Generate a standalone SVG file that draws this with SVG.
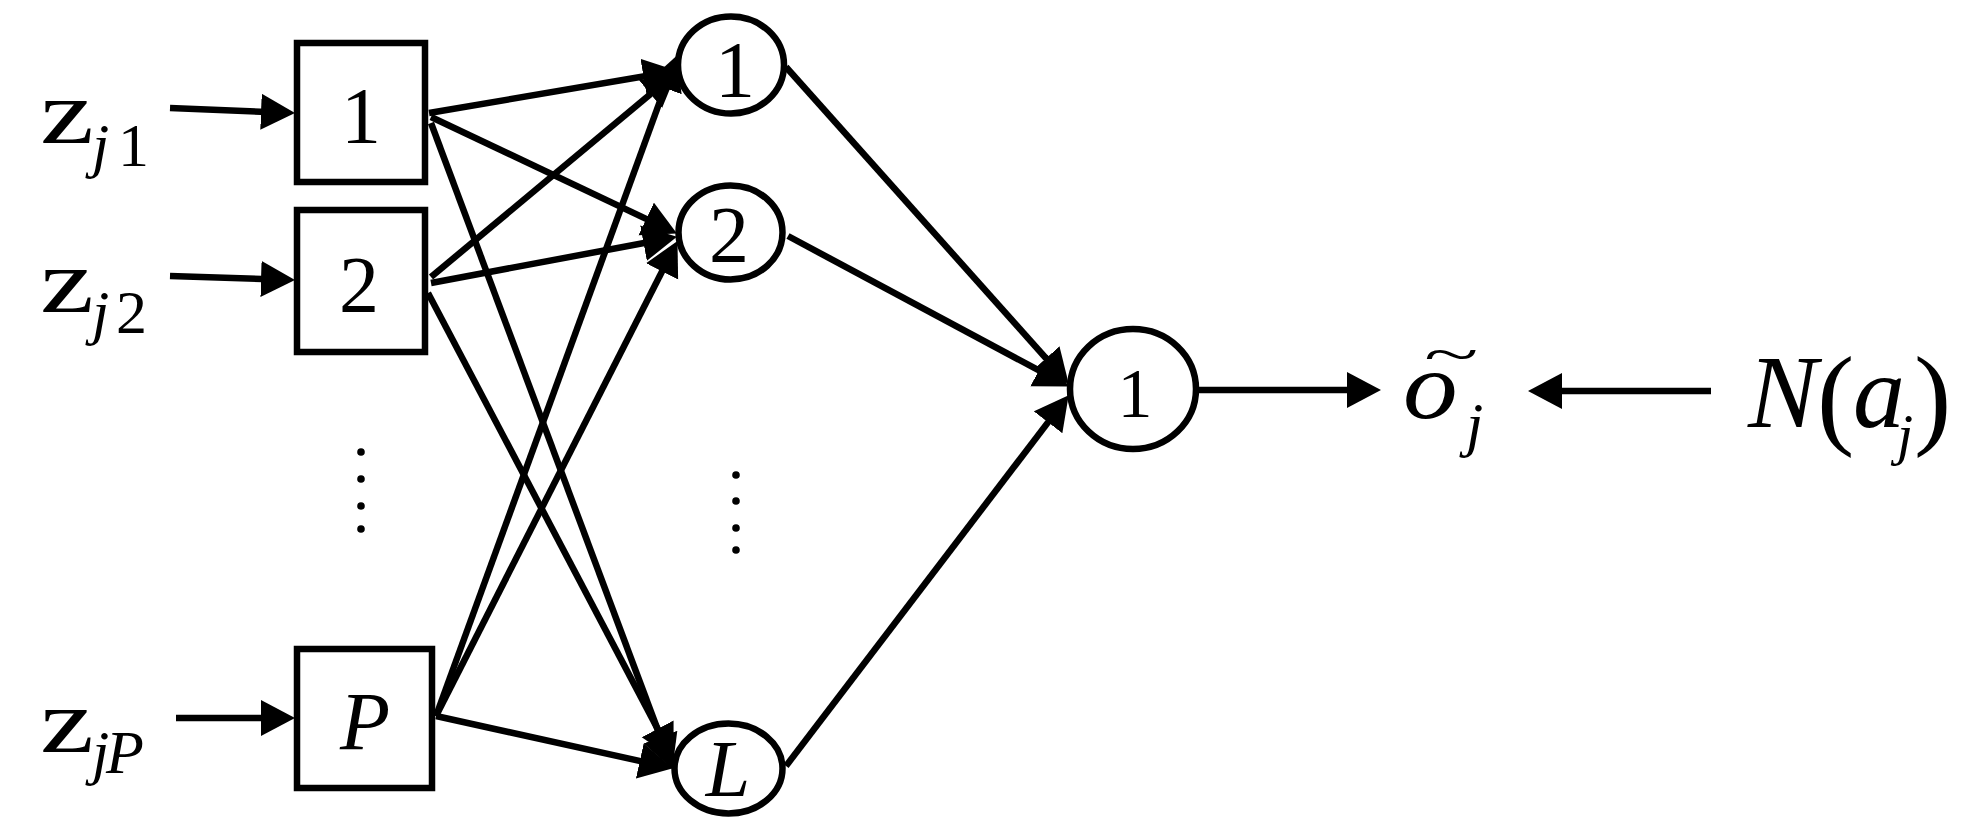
<svg xmlns="http://www.w3.org/2000/svg" width="1970" height="834" viewBox="0 0 1970 834">
<defs>
<style>
.shape{fill:#fff;stroke:#000;stroke-width:6.5}
.t{font-family:"Liberation Serif","Times New Roman",serif;fill:#000}
.i{font-style:italic}
.c{stroke:#000;stroke-width:6.5;fill:none;marker-end:url(#ah)}
.dot{fill:#000}
</style>
<marker id="ah" markerUnits="userSpaceOnUse" markerWidth="36" markerHeight="38" refX="25" refY="18" orient="auto" viewBox="0 0 36 38">
<path d="M0,0 L34,18 L0,36 Z" fill="#000"/>
</marker>
</defs>
<rect width="1970" height="834" fill="#fff"/>
<g id="connectors">
<line class="c" x1="170" y1="108" x2="286" y2="112.7"/>
<line class="c" x1="170" y1="276" x2="286" y2="279.7"/>
<line class="c" x1="176" y1="718" x2="286" y2="718"/>
<line class="c" x1="429" y1="113" x2="668.1" y2="72.3"/>
<line class="c" x1="431" y1="277" x2="669.8" y2="78.1"/>
<line class="c" x1="436" y1="716" x2="673.3" y2="64.5"/>
<line class="c" x1="431" y1="117" x2="668.8" y2="229.6"/>
<line class="c" x1="431" y1="283" x2="668.1" y2="238.5"/>
<line class="c" x1="436" y1="716" x2="673.4" y2="249.1"/>
<line class="c" x1="431" y1="123" x2="669.2" y2="760.5"/>
<line class="c" x1="428" y1="293" x2="669.3" y2="750.9"/>
<line class="c" x1="436" y1="716" x2="664.2" y2="766.3"/>
<line class="c" x1="786" y1="67" x2="1062.7" y2="377"/>
<line class="c" x1="788" y1="236" x2="1060.9" y2="382.2"/>
<line class="c" x1="786" y1="766" x2="1063.2" y2="402.4"/>
<line class="c" x1="1198" y1="390" x2="1372" y2="390"/>
<line class="c" x1="1711" y1="391" x2="1537" y2="391"/>
</g>
<g id="label-zj1"><text class="t" transform="translate(40,143) scale(1.35,1)" font-size="90">z</text><text class="t i" x="92" y="166" font-size="62">j</text><text class="t" x="118" y="166" font-size="62">1</text></g>
<g id="label-zj2"><text class="t" transform="translate(40,312) scale(1.35,1)" font-size="90">z</text><text class="t i" x="92" y="333" font-size="62">j</text><text class="t" x="116" y="333" font-size="62">2</text></g>
<g id="label-zjP"><text class="t" transform="translate(40,752) scale(1.35,1)" font-size="90">z</text><text class="t i" x="92" y="773" font-size="62">j</text><text class="t i" x="106" y="773" font-size="62">P</text></g>
<g id="input-1"><rect class="shape" x="297" y="43" width="128" height="139"/><text class="t" x="361" y="143" font-size="80" text-anchor="middle">1</text></g>
<g id="input-2"><rect class="shape" x="297" y="210" width="128" height="142"/><text class="t" x="359" y="312" font-size="80" text-anchor="middle">2</text></g>
<g id="input-P"><rect class="shape" x="297" y="649" width="135" height="139"/><text class="t i" x="365" y="749" font-size="82" text-anchor="middle">P</text></g>
<g id="input-dots"><circle class="dot" cx="361" cy="452" r="3.8"/><circle class="dot" cx="361" cy="479" r="3.8"/><circle class="dot" cx="361" cy="506" r="3.8"/><circle class="dot" cx="361" cy="529" r="3.8"/></g>
<g id="hidden-1"><ellipse class="shape" cx="731" cy="65" rx="53" ry="48.5"/><text class="t" x="735" y="97" font-size="80" text-anchor="middle">1</text></g>
<g id="hidden-2"><ellipse class="shape" cx="730.5" cy="232.5" rx="52" ry="47"/><text class="t" x="729" y="262" font-size="80" text-anchor="middle">2</text></g>
<g id="hidden-L"><ellipse class="shape" cx="728.5" cy="768.5" rx="54" ry="45"/><text class="t i" x="728" y="796" font-size="80" text-anchor="middle">L</text></g>
<g id="hidden-dots"><circle class="dot" cx="736" cy="475" r="3.8"/><circle class="dot" cx="736" cy="501" r="3.8"/><circle class="dot" cx="736" cy="528" r="3.8"/><circle class="dot" cx="736" cy="550" r="3.8"/></g>
<g id="output-1"><ellipse class="shape" cx="1133" cy="389" rx="63" ry="60"/><text class="t" x="1135" y="417" font-size="70" text-anchor="middle">1</text></g>
<g id="label-oj"><text class="t" transform="translate(1424,373) scale(1.12,0.6)" font-size="90">~</text><text class="t i" transform="translate(1403,418) scale(1.15,1)" font-size="95">o</text><text class="t i" x="1466" y="445" font-size="62">j</text></g>
<g id="label-Naj"><text class="t i" x="1748" y="427" font-size="104">N</text><text class="t" x="1817" y="434" font-size="112">(</text><text class="t i" x="1853" y="427" font-size="104">a</text><text class="t i" x="1897" y="454" font-size="58">j</text><text class="t" x="1914" y="434" font-size="112">)</text></g>
</svg>
